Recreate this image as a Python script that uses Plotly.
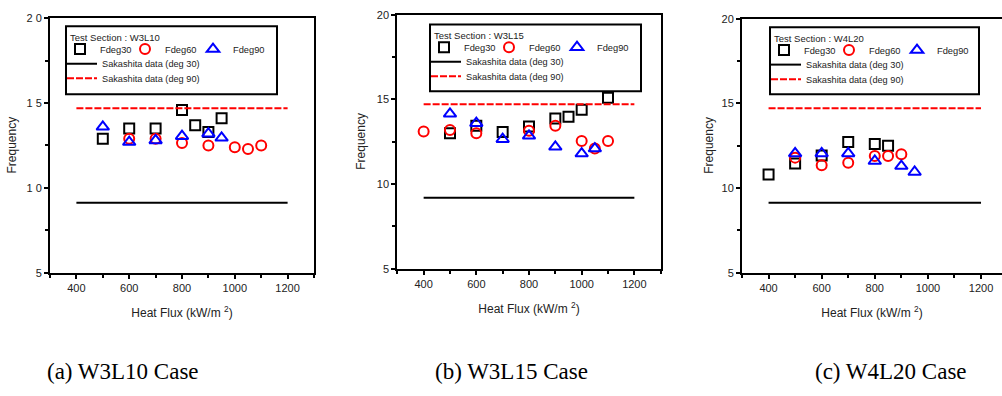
import plotly.graph_objects as go

# ---------------- data ----------------
sections = ["W3L10", "W3L15", "W4L20"]
captions = ["(a) W3L10 Case", "(b) W3L15 Case", "(c) W4L20 Case"]

# (a) W3L10
a_x30 = [500, 600, 700, 800, 850, 900, 950]
a_y30 = [12.9, 13.5, 13.5, 14.6, 13.7, 13.3, 14.1]
a_x60 = [600, 700, 800, 900, 1000, 1050, 1100]
a_y60 = [12.9, 12.9, 12.65, 12.5, 12.4, 12.3, 12.5]
a_x90 = [500, 600, 700, 800, 900, 950]
a_y90 = [13.6, 12.7, 12.8, 13.05, 13.2, 12.95]

# (b) W3L15
b_x30 = [500, 600, 700, 800, 900, 950, 1000, 1100]
b_y30 = [13.0, 13.45, 13.07, 13.4, 13.87, 13.97, 14.39, 15.1]
b_x60 = [400, 500, 600, 800, 900, 1000, 1050, 1100]
b_y60 = [13.1, 13.2, 13.0, 13.15, 13.45, 12.55, 12.1, 12.55]
b_x90 = [500, 600, 700, 800, 900, 1000, 1050]
b_y90 = [14.15, 13.6, 12.65, 12.85, 12.2, 11.8, 12.1]

# (c) W4L20
c_x30 = [400, 500, 600, 700, 800, 850]
c_y30 = [10.8, 11.45, 11.93, 12.73, 12.6, 12.5]
c_x60 = [500, 600, 700, 800, 850, 900]
c_y60 = [11.8, 11.35, 11.5, 11.9, 11.9, 12.0]
c_x90 = [500, 600, 700, 800, 900, 950]
c_y90 = [12.05, 12.05, 12.05, 11.6, 11.3, 10.95]

# Sakashita reference lines
sak_x = [400, 1200]
sak30 = [9.12, 9.2, 9.14]
sak90 = [14.7, 14.72, 14.72]

y_ticks = [5, 10, 15, 20]
y_ticktext = [["5", "1 0", "1 5", "2 0"], ["5", "10", "15", "20"], ["5", "10", "15", "20"]]

# ---------------- layout geometry (pixels) ----------------
W, H = 1002, 396
xdom_px = [(50, 314), (397.3, 660.7), (742, 1002)]
ydom_px = [(12.7, 275), (9, 271), (13.3, 275)]
xrng = [[300, 1300], [300, 1300], [300, 1279]]
box_px = [(66, 21, 277, 91), (430, 19, 641, 88), (770, 22, 979, 91)]
ytitle_px = [12, 361, 709]
cap_px = [123, 512, 891]
mark_off = [14, 79, 147]

FONT = "Liberation Sans, Arial, sans-serif"
TXT = "#222222"

def px(x):
    return x / W

def py(y):
    return 1 - y / H

series = [
    [(a_x30, a_y30), (a_x60, a_y60), (a_x90, a_y90)],
    [(b_x30, b_y30), (b_x60, b_y60), (b_x90, b_y90)],
    [(c_x30, c_y30), (c_x60, c_y60), (c_x90, c_y90)],
]
names = ["Fdeg30", "Fdeg60", "Fdeg90"]
symbols = ["square-open", "circle-open", "triangle-up-open"]
colors = ["#000000", "#ff0000", "#0000ff"]
msizes = [10, 10, 11]

fig = go.Figure()
layout = dict(
    width=W, height=H,
    margin=dict(l=0, r=0, t=0, b=0),
    paper_bgcolor="white", plot_bgcolor="white",
    font=dict(family=FONT, color=TXT, size=10),
    shapes=[], annotations=[],
)

lcount = 0
def new_legend_id():
    global lcount
    lcount += 1
    return "legend" if lcount == 1 else f"legend{lcount}"

common = dict(bgcolor="rgba(0,0,0,0)", borderwidth=0, xanchor="left", yanchor="top",
              itemclick=False, itemdoubleclick=False, orientation="v")

for i in range(3):
    ax = "" if i == 0 else str(i + 1)
    xa, ya = "x" + ax, "y" + ax
    bl, bt, br, bb = box_px[i]

    for k in range(3):
        lid = new_legend_id()
        xs, ys = series[i][k]
        fig.add_trace(go.Scatter(
            x=xs, y=ys, mode="markers", name=names[k],
            marker=dict(symbol=symbols[k], size=msizes[k], color=colors[k],
                        line=dict(width=2, color=colors[k])),
            xaxis=xa, yaxis=ya, legend=lid, showlegend=True,
        ))
        layout[lid] = dict(common, x=px(bl + mark_off[k] - 20), y=py(bt + 8.5),
                           font=dict(size=9.3, family=FONT, color=TXT))

    lid = new_legend_id()
    fig.add_trace(go.Scatter(
        x=sak_x, y=[sak30[i]] * len(sak_x), mode="lines",
        name="Sakashita data (deg 30)",
        line=dict(color="#000000", width=2),
        xaxis=xa, yaxis=ya, legend=lid, showlegend=True,
    ))
    layout[lid] = dict(common, x=px(bl - 4), y=py(bt + 23.5),
                       font=dict(size=9.2, family=FONT, color=TXT))

    lid = new_legend_id()
    fig.add_trace(go.Scatter(
        x=sak_x, y=[sak90[i]] * len(sak_x), mode="lines",
        name="Sakashita data (deg 90)",
        line=dict(color="#ff0000", width=2, dash="7px,2px"),
        xaxis=xa, yaxis=ya, legend=lid, showlegend=True,
    ))
    layout[lid] = dict(common, x=px(bl - 4), y=py(bt + 38.5),
                       font=dict(size=9.2, family=FONT, color=TXT))

    # axes
    x0, x1 = xdom_px[i]
    yt, yb = ydom_px[i]
    layout["xaxis" + ax] = dict(
        domain=[px(x0), min(1.0, px(x1))], range=xrng[i], anchor=ya,
        showline=True, linecolor="black", linewidth=2, mirror=True,
        ticks="outside", ticklen=4, tickwidth=1.5, tickcolor="black",
        tickmode="linear", tick0=400, dtick=200,
        minor=dict(tick0=300, dtick=100, ticks="outside", ticklen=3, tickwidth=1.5, tickcolor="black"),
        showgrid=False, zeroline=False,
        tickfont=dict(size=11, family=FONT, color=TXT),
        title=dict(text="Heat Flux (kW/m <sup>2</sup>)", standoff=16,
                   font=dict(size=12, family=FONT, color=TXT)),
    )
    layout["yaxis" + ax] = dict(
        domain=[py(yb), py(yt)], range=[5, 20], anchor=xa,
        showline=True, linecolor="black", linewidth=2, mirror=(i < 2),
        ticks="outside", ticklen=4, tickwidth=1.5, tickcolor="black",
        tickmode="array", tickvals=y_ticks, ticktext=y_ticktext[i],
        minor=dict(tick0=5, dtick=2.5, ticks="outside", ticklen=3, tickwidth=1.5, tickcolor="black"),
        showgrid=False, zeroline=False,
        tickfont=dict(size=11, family=FONT, color=TXT),
    )
    # y-axis title
    layout["annotations"].append(dict(
        text="Frequency", xref="paper", yref="paper",
        x=px(ytitle_px[i]), y=py((yt + yb) / 2), xanchor="center", yanchor="middle",
        textangle=-90, showarrow=False, font=dict(size=12, family=FONT, color=TXT),
    ))

    # legend frame + title
    layout["shapes"].append(dict(
        type="rect", xref="paper", yref="paper",
        x0=px(bl), x1=px(br), y0=py(bb), y1=py(bt),
        line=dict(color="black", width=2), fillcolor="rgba(0,0,0,0)", layer="above",
    ))
    layout["annotations"].append(dict(
        text="Test Section : " + sections[i], xref="paper", yref="paper",
        x=px(bl + 2), y=py(bt + 11), xanchor="left", yanchor="middle",
        showarrow=False, font=dict(size=9.5, family=FONT, color=TXT),
    ))

    # caption
    layout["annotations"].append(dict(
        text=captions[i], xref="paper", yref="paper",
        x=px(cap_px[i]), y=py(377), xanchor="center", yanchor="middle",
        showarrow=False, font=dict(size=23, family="Liberation Serif, Times New Roman, serif", color="black"),
    ))

fig.update_layout(**layout)
fig.write_html("out.html")
